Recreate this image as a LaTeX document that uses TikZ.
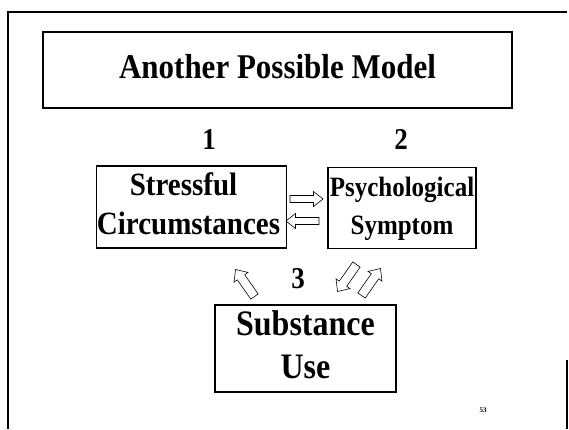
\documentclass[tikz,border=0pt]{standalone}
\usepackage{fontspec}
\usepackage{graphicx}
\setmainfont{Liberation Serif}
\newcommand{\tallrows}[1]{\scalebox{1}[1.12]{\begin{tabular}{@{}c@{}}#1\end{tabular}}}
\tikzset{
    modelbox/.style={draw, line width=1.1pt, inner sep=0pt, align=center,
        font=\fontsize{29}{35}\selectfont\bfseries},
    numlabel/.style={font=\fontsize{27}{30}\selectfont\bfseries},
    blockarrow/.style={draw, line width=0.6pt, line join=miter}
}
\begin{document}
\begin{tikzpicture}[x=1pt, y=1pt, >=latex]
        \useasboundingbox (0,0) rectangle (569,-429);
        % slide frame
        \draw[line width=1.6pt](8,-429)--(8,-12)--(567,-12);
        \draw[line width=1.6pt](567,-360)--(567,-429);
        % title
        \node[modelbox, minimum width=469pt, minimum height=76pt,
            font=\fontsize{31}{38}\selectfont\bfseries] (title) at (277.5,-70) {\tallrows{Another Possible Model}};
        % the three boxes
        \node[modelbox, minimum width=187pt, minimum height=82pt] (stress) at (191.5,-207) {\tallrows{Stressful\kern16pt\\Circumstances\kern6pt}};
        \node[modelbox, minimum width=148pt, minimum height=81pt,
            font=\fontsize{25}{34}\selectfont\bfseries] (symptom) at (402,-208) {\tallrows{Psychological\\Symptom}};
        \node[modelbox, minimum width=181pt, minimum height=87pt, line width=1.6pt,
            font=\fontsize{32}{38}\selectfont\bfseries] (substance) at (305.5,-348.5) {\tallrows{Substance\\Use}};
        \node[numlabel] (one) at (209,-143) {\tallrows{1}};
        \node[numlabel] (two) at (401,-143) {\tallrows{2}};
        \node[numlabel] (three) at (298,-282) {\tallrows{3}};
        % hollow arrows
        \foreach \n/\x/\y/\a/\s/\h in {
                right/306.5/-199/0/3.5/7.5,
                left/302.5/-221/180/3.5/7.5,
                up/245/-283/125/4.5/8.5,
                down/347/-278/235/4.5/8.5,
                back/371/-282/55/4.5/8.5}
            {
                \draw[blockarrow, shift={(\x,\y)}, rotate=\a]
                    (-16.5,-\s)--(7,-\s)--(7,-\h)--(16.5,0)--(7,\h)--(7,\s)--(-16.5,\s)--cycle;
                \coordinate (arr\n) at (\x,\y);
            }
        \node[font=\fontsize{7}{8}\selectfont\bfseries] (page) at (483,-410) {53};
    \end{tikzpicture}
\end{document}
